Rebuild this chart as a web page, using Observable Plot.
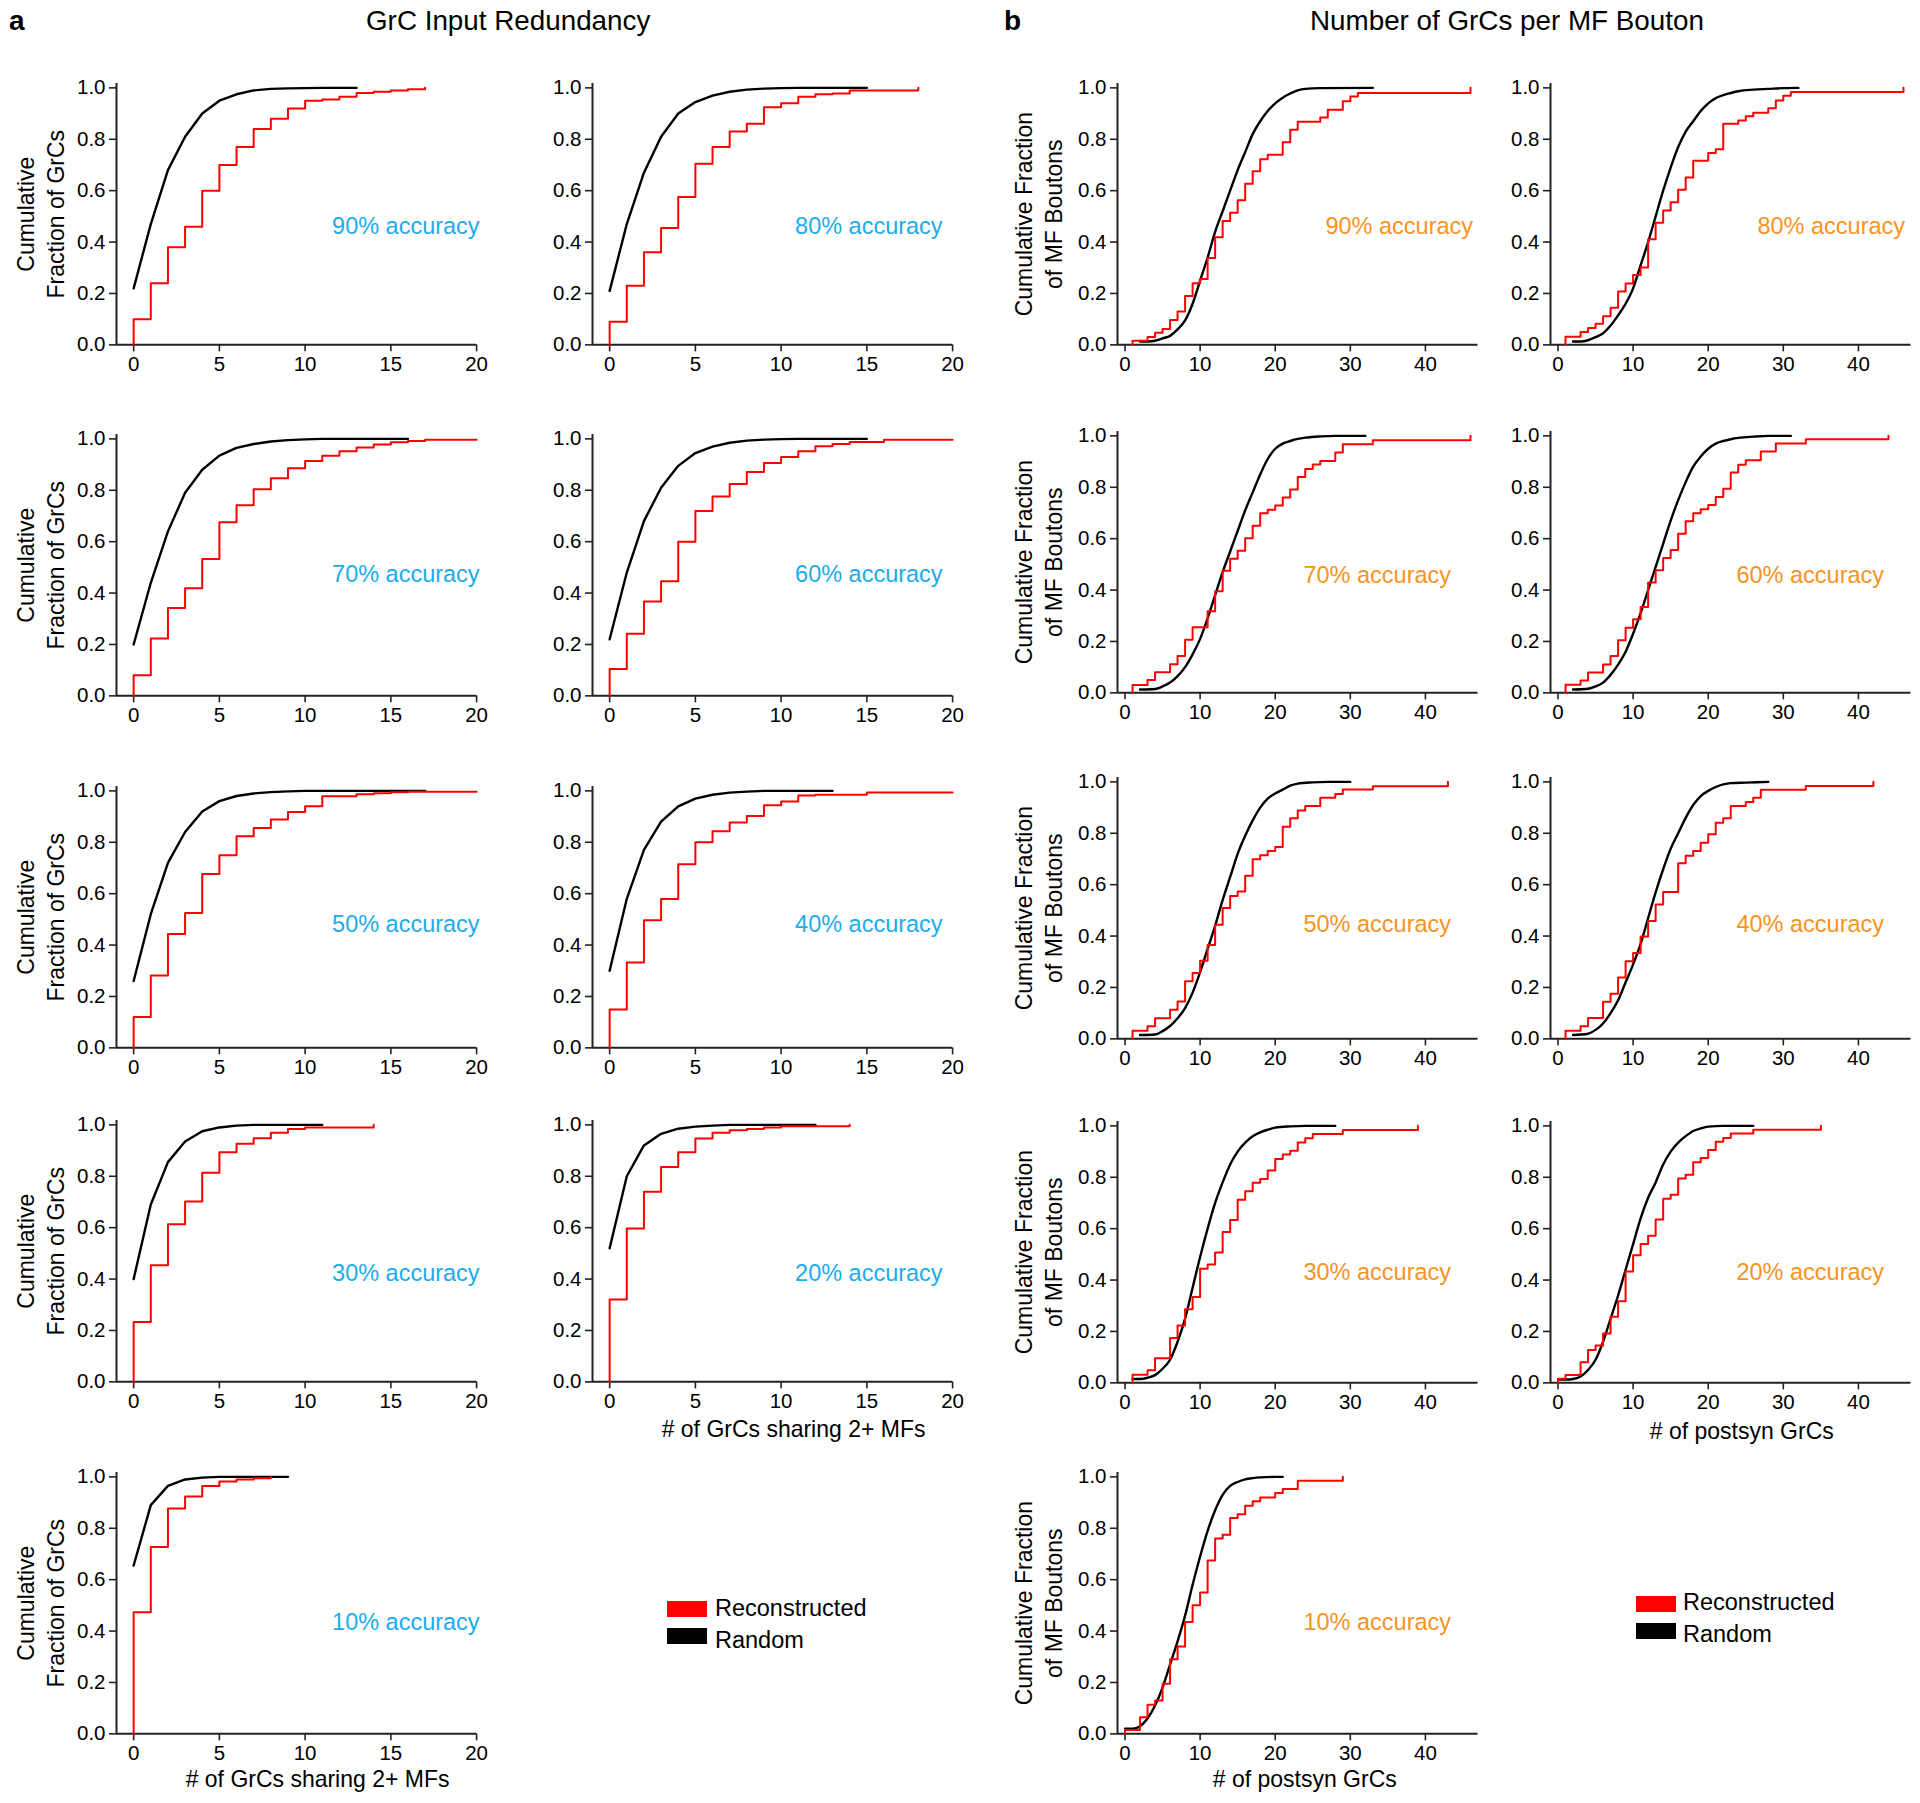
<!DOCTYPE html>
<html><head><meta charset="utf-8">
<script src="https://cdn.jsdelivr.net/npm/d3@7"></script>
<script src="https://cdn.jsdelivr.net/npm/@observablehq/plot@0.6"></script>
<style>
body{margin:0;background:#fff;}
#root{position:relative;width:1920px;height:1803px;overflow:hidden;font-family:"Liberation Sans",Arial,sans-serif;color:#000;background:#fff;}
.abs{position:absolute;white-space:nowrap;line-height:1;}
.sw{position:absolute;width:40px;height:16px;}
</style></head><body><div id="root"></div>
<script>
// ---------------- DATA ----------------
const accuracyLevels = [90, 80, 70, 60, 50, 40, 30, 20, 10];
const titleA = "GrC Input Redundancy";
const titleB = "Number of GrCs per MF Bouton";
const yLabelA = "Cumulative\nFraction of GrCs";
const yLabelB = "Cumulative Fraction\nof MF Boutons";
const xLabelA = "# of GrCs sharing 2+ MFs";
const xLabelB = "# of postsyn GrCs";
const seriesNames = ["Reconstructed", "Random"];
const xTicksA = [0, 5, 10, 15, 20];
const xTicksB = [0, 10, 20, 30, 40];
const yTicks = [0, 0.2, 0.4, 0.6, 0.8, 1.0];

// Panel a: cumulative fraction at 0,1,2,... GrCs sharing 2+ MFs (index = count)
const grcReconstructed = [
  [0.10,0.24,0.38,0.46,0.60,0.70,0.77,0.84,0.88,0.92,0.95,0.955,0.965,0.98,0.985,0.99,0.995,1.0],
  [0.09,0.23,0.36,0.455,0.575,0.705,0.77,0.83,0.86,0.925,0.94,0.965,0.975,0.978,0.99,0.99,0.99,0.99,1.0],
  [0.08,0.223,0.342,0.419,0.533,0.676,0.742,0.804,0.847,0.886,0.914,0.934,0.952,0.966,0.978,0.987,0.992,0.997,0.997,0.997,0.997],
  [0.105,0.242,0.367,0.446,0.60,0.719,0.776,0.824,0.871,0.906,0.929,0.952,0.971,0.98,0.988,0.988,0.997,0.997,0.997,0.997,0.997],
  [0.12,0.282,0.443,0.525,0.677,0.749,0.823,0.856,0.889,0.918,0.94,0.979,0.979,0.987,0.991,0.995,0.997,0.997,0.997,0.997,0.997],
  [0.149,0.332,0.497,0.579,0.714,0.80,0.843,0.877,0.902,0.944,0.959,0.982,0.985,0.985,0.985,0.994,0.994,0.994,0.994,0.994,0.994],
  [0.233,0.454,0.613,0.702,0.814,0.893,0.927,0.948,0.969,0.984,0.99,0.99,0.99,0.99,1.0],
  [0.32,0.597,0.74,0.836,0.893,0.947,0.969,0.979,0.984,0.99,0.995,0.995,0.995,0.995,1.0],
  [0.473,0.727,0.877,0.924,0.964,0.982,0.99,0.995,1.0]
];
const grcRandom = [
  [0.22,0.47,0.68,0.81,0.90,0.95,0.975,0.99,0.996,0.998,0.999,1,1,1],
  [0.21,0.47,0.67,0.81,0.90,0.945,0.97,0.985,0.993,0.997,0.999,1,1,1,1,1],
  [0.20,0.44,0.64,0.79,0.88,0.935,0.965,0.98,0.99,0.995,0.998,1,1,1,1,1,1],
  [0.22,0.48,0.68,0.81,0.895,0.945,0.97,0.985,0.993,0.997,0.999,1,1,1,1,1],
  [0.26,0.52,0.72,0.84,0.92,0.96,0.98,0.99,0.995,0.998,1,1,1,1,1,1,1,1],
  [0.30,0.58,0.77,0.88,0.94,0.97,0.985,0.993,0.997,1,1,1,1,1],
  [0.40,0.69,0.855,0.935,0.975,0.99,0.997,1,1,1,1,1],
  [0.52,0.80,0.92,0.965,0.985,0.993,0.997,1,1,1,1,1,1],
  [0.655,0.89,0.965,0.99,0.997,1,1,1,1,1]
];

// Panel b: number of postsynaptic GrCs per MF bouton (step positions and cumulative fractions)
const boutonReconstructedX = [
  [1,3,4,5,6,7,8,9,10,11,12,13,14,15,16,17,18,19,21,22,23,26,27,29,30,31,46],
  [1,3,4,5,6,7,8,9,10,11,12,13,14,15,16,17,18,20,21,22,24,25,26,28,29,30,31,46],
  [1,3,4,6,7,8,9,11,12,13,14,15,16,17,18,19,20,21,22,23,24,25,26,28,29,33,46],
  [1,3,4,6,7,8,9,10,11,12,13,14,15,16,17,18,19,20,21,22,23,24,25,27,29,33,44],
  [1,3,4,6,7,8,9,10,11,12,13,14,15,16,17,18,19,20,21,22,23,24,26,28,29,33,43],
  [1,3,4,6,7,8,9,10,11,12,13,14,16,17,18,19,20,21,22,23,25,26,27,33,42],
  [1,3,4,6,7,8,9,10,11,12,13,14,15,16,17,18,19,20,21,22,23,24,25,29,39],
  [0,1,3,4,5,6,7,8,9,10,11,12,13,14,15,16,17,18,19,20,21,22,23,26,35],
  [0,2,3,4,5,6,7,8,9,10,11,12,13,14,15,16,17,18,20,21,23,29]
];
const boutonReconstructedY = [
  [0.016,0.031,0.047,0.062,0.097,0.13,0.19,0.24,0.256,0.338,0.419,0.482,0.514,0.563,0.627,0.676,0.722,0.74,0.788,0.837,0.868,0.885,0.915,0.948,0.966,0.98,1.0],
  [0.032,0.05,0.066,0.082,0.111,0.144,0.208,0.239,0.272,0.301,0.411,0.475,0.523,0.555,0.604,0.651,0.716,0.747,0.761,0.86,0.873,0.89,0.903,0.921,0.951,0.969,0.984,1.0],
  [0.031,0.05,0.08,0.111,0.143,0.207,0.255,0.318,0.395,0.475,0.522,0.553,0.602,0.65,0.699,0.713,0.729,0.76,0.791,0.84,0.871,0.889,0.902,0.935,0.967,0.983,1.0],
  [0.032,0.048,0.079,0.11,0.143,0.205,0.253,0.286,0.334,0.429,0.477,0.525,0.556,0.619,0.668,0.699,0.714,0.731,0.762,0.794,0.857,0.888,0.905,0.939,0.97,0.987,1.0],
  [0.032,0.049,0.08,0.113,0.145,0.224,0.256,0.304,0.365,0.444,0.509,0.556,0.573,0.635,0.699,0.714,0.731,0.747,0.825,0.858,0.889,0.906,0.938,0.953,0.97,0.983,1.0],
  [0.032,0.049,0.081,0.144,0.176,0.239,0.302,0.334,0.398,0.459,0.523,0.571,0.683,0.713,0.731,0.763,0.796,0.841,0.858,0.906,0.922,0.938,0.969,0.984,1.0],
  [0.032,0.049,0.096,0.175,0.223,0.286,0.334,0.444,0.461,0.507,0.587,0.634,0.713,0.746,0.779,0.793,0.826,0.871,0.889,0.903,0.935,0.952,0.968,0.984,1.0],
  [0.016,0.031,0.08,0.128,0.145,0.192,0.257,0.318,0.433,0.497,0.54,0.572,0.636,0.716,0.732,0.795,0.81,0.858,0.875,0.906,0.938,0.953,0.97,0.985,1.0],
  [0.015,0.065,0.113,0.13,0.195,0.29,0.34,0.435,0.50,0.55,0.675,0.76,0.775,0.84,0.855,0.888,0.905,0.92,0.937,0.953,0.985,1.0]
];
const boutonRandomX = [
  [2,3,4,5,6,7,8,9,10,11,12,13,14,15,16,17,18,19,20,21,22,23,24,26,33],
  [2,3,4,5,6,7,8,9,10,11,12,13,14,15,16,17,18,19,20,21,22,23,24,26,28,30,32],
  [2,4,5,6,7,8,9,10,11,12,13,14,15,16,17,18,19,20,21,22,23,24,26,28,32],
  [2,4,5,6,7,8,9,10,11,12,13,14,15,16,17,18,19,20,21,22,23,24,26,28,31],
  [2,4,5,6,7,8,9,10,11,12,13,14,15,16,17,18,19,20,21,22,23,25,27,30],
  [2,4,5,6,7,8,9,10,11,12,13,14,15,16,17,18,19,20,21,22,23,25,28],
  [1,2,3,4,5,6,7,8,9,10,11,12,13,14,15,16,17,18,19,20,22,24,28],
  [0,1,2,3,4,5,6,7,8,9,10,11,12,13,14,15,16,17,18,19,20,22,26],
  [0,1,2,3,4,5,6,7,8,9,10,11,12,13,14,15,16,17,18,20,21]
];
const boutonRandomY = [
  [0.013,0.013,0.016,0.025,0.035,0.06,0.095,0.16,0.25,0.34,0.44,0.52,0.60,0.68,0.75,0.82,0.87,0.91,0.94,0.962,0.978,0.99,0.996,0.999,1.0],
  [0.013,0.013,0.018,0.03,0.045,0.075,0.115,0.16,0.22,0.31,0.40,0.50,0.60,0.69,0.77,0.83,0.87,0.91,0.94,0.96,0.972,0.98,0.987,0.993,0.996,0.999,1.0],
  [0.013,0.015,0.025,0.04,0.065,0.10,0.15,0.21,0.29,0.38,0.47,0.55,0.63,0.71,0.78,0.85,0.91,0.95,0.97,0.98,0.988,0.993,0.998,1.0,1.0],
  [0.013,0.016,0.025,0.04,0.07,0.11,0.16,0.23,0.31,0.40,0.49,0.58,0.67,0.75,0.82,0.88,0.92,0.95,0.97,0.98,0.987,0.992,0.997,1.0,1.0],
  [0.015,0.017,0.03,0.05,0.08,0.12,0.18,0.26,0.35,0.44,0.54,0.63,0.72,0.79,0.85,0.90,0.935,0.955,0.97,0.985,0.993,0.998,1.0,1.0],
  [0.015,0.02,0.035,0.06,0.10,0.15,0.22,0.29,0.37,0.47,0.57,0.66,0.74,0.80,0.86,0.91,0.945,0.965,0.98,0.99,0.995,0.997,1.0],
  [0.015,0.015,0.02,0.03,0.055,0.09,0.16,0.25,0.37,0.49,0.60,0.70,0.78,0.85,0.90,0.935,0.96,0.975,0.985,0.993,0.998,1.0,1.0],
  [0.013,0.013,0.015,0.025,0.05,0.09,0.16,0.25,0.34,0.44,0.54,0.64,0.72,0.78,0.85,0.90,0.935,0.96,0.98,0.99,0.997,1.0,1.0],
  [0.02,0.02,0.03,0.06,0.11,0.18,0.27,0.36,0.46,0.58,0.69,0.79,0.87,0.93,0.965,0.98,0.99,0.995,0.998,1.0,1.0]
];

// ---------------- LAYOUT (page pixels) ----------------
const COLORS = {red: "#ff0000", black: "#000000", cyan: "#1cacec", orange: "#f7931e", axis: "#222"};
const FONT = '"Liberation Sans", Arial, Helvetica, sans-serif';
const xDomA = [-1, 20], xDomB = [-1, 47], yMax = 1.017;
const unitH = 257;               // pixels for y 0..1
const ML = 110, MR = 12, MT = 10, MB = 80;
const colA = [[115.9, 476], [591.9, 952]];
const colB = [[1117, 1477.5], [1550, 1910.5]];
const rowY0A = [344, 695, 1047, 1381, 1733];
const rowY0B = [344, 692, 1038, 1382, 1733];
const accDyA = [-118, -121, -123, -108, -111];
const accDyB = [-118, -117, -114, -110, -111];
const accDxA = [3, -10];
const accDxB = [[-5, -6], [-27, -27], [-27, -27], [-27, -27], [-27, -27]];

const root = document.getElementById("root");

function addDiv(text, left, centerY, size, opts = {}) {
  const d = document.createElement("div");
  d.className = "abs";
  d.textContent = text;
  d.style.left = left + "px";
  d.style.top = (centerY - size / 2) + "px";
  d.style.fontSize = size + "px";
  if (opts.bold) d.style.fontWeight = "bold";
  root.appendChild(d);
  return d;
}

function panel(cfg) {
  const frameH = unitH * yMax;
  const width = cfg.frame[1] - cfg.frame[0] + ML + MR;
  const height = frameH + MT + MB;
  const marks = [
    Plot.ruleY([0], {x1: cfg.xDomain[0], x2: cfg.xDomain[1], stroke: COLORS.axis, strokeWidth: 2}),
    Plot.ruleX([cfg.xDomain[0]], {y1: 0, y2: yMax, stroke: COLORS.axis, strokeWidth: 2}),
    Plot.axisX(cfg.xTicks, {tickSize: 7, tickPadding: 5, fontSize: 20.5, strokeWidth: 1.6, stroke: COLORS.axis, fill: "#000", label: null}),
    Plot.axisY(yTicks, {tickSize: 7, tickPadding: 4, fontSize: 20.5, strokeWidth: 1.6, stroke: COLORS.axis, fill: "#000", tickFormat: d3.format(".1f"), label: null}),
    Plot.line(cfg.black, {x: "x", y: "y", stroke: COLORS.black, strokeWidth: 2.4, curve: cfg.blackCurve}),
    Plot.line(cfg.red, {x: "x", y: "y", stroke: COLORS.red, strokeWidth: 2, curve: "step-after"}),
    Plot.text([cfg.accText], {text: d => d, frameAnchor: "bottom-right", textAnchor: "end", lineAnchor: "middle", dx: cfg.accDx, dy: cfg.accDy, fontSize: 23.5, fill: cfg.accColor})
  ];
  if (cfg.yLabel) {
    marks.push(Plot.text([cfg.yLabel], {text: d => d, frameAnchor: "left", textAnchor: "middle", lineAnchor: "middle", rotate: -90, dx: cfg.yLabelDx, fontSize: 23, lineHeight: 1.28, fill: "#000"}));
  }
  if (cfg.xLabel) {
    marks.push(Plot.text([cfg.xLabel], {text: d => d, frameAnchor: "bottom", textAnchor: "middle", lineAnchor: "middle", dx: cfg.xLabelDx, dy: cfg.xLabelDy, fontSize: 23, fill: "#000"}));
  }
  const svg = Plot.plot({
    width, height,
    marginLeft: ML, marginRight: MR, marginTop: MT, marginBottom: MB,
    x: {domain: cfg.xDomain},
    y: {domain: [0, yMax]},
    style: {fontFamily: FONT, background: "transparent", overflow: "visible", color: "#000", maxWidth: "none"},
    marks
  });
  svg.style.position = "absolute";
  svg.style.left = (cfg.frame[0] - ML) + "px";
  svg.style.top = (cfg.y0 - frameH - MT) + "px";
  root.appendChild(svg);
}

// Panel a
accuracyLevels.forEach((acc, i) => {
  const row = Math.floor(i / 2), col = i % 2;
  const red = [{x: 0, y: 0}, ...grcReconstructed[i].map((y, x) => ({x, y}))];
  const black = grcRandom[i].map((y, x) => ({x, y}));
  const hasXLabel = (i === 7 || i === 8);
  panel({
    xDomain: xDomA, xTicks: xTicksA, frame: colA[col], y0: rowY0A[row],
    red, black, blackCurve: "linear",
    yLabel: col === 0 ? yLabelA : null, yLabelDx: -77,
    accText: `${acc}% accuracy`, accColor: COLORS.cyan, accDx: accDxA[col], accDy: accDyA[row],
    xLabel: hasXLabel ? xLabelA : null, xLabelDx: 21, xLabelDy: row === 4 ? 46 : 48
  });
});

// Panel b
accuracyLevels.forEach((acc, i) => {
  const row = Math.floor(i / 2), col = i % 2;
  const xs = boutonReconstructedX[i], ys = boutonReconstructedY[i];
  const red = [{x: xs[0], y: 0}, ...xs.map((x, k) => ({x, y: ys[k]}))];
  const black = boutonRandomX[i].map((x, k) => ({x, y: boutonRandomY[i][k]}));
  const hasXLabel = (i === 7 || i === 8);
  panel({
    xDomain: xDomB, xTicks: xTicksB, frame: colB[col], y0: rowY0B[row],
    red, black, blackCurve: "monotone-x",
    yLabel: col === 0 ? yLabelB : null, yLabelDx: -80,
    accText: `${acc}% accuracy`, accColor: COLORS.orange, accDx: accDxB[row][col], accDy: accDyB[row],
    xLabel: hasXLabel ? xLabelB : null, xLabelDx: row === 4 ? 7 : 11, xLabelDy: row === 4 ? 46 : 49
  });
});

// Titles
addDiv("a", 9, 21, 28, {bold: true});
addDiv(titleA, 366, 21, 27.8);
addDiv("b", 1004, 21, 28, {bold: true});
addDiv(titleB, 1310, 21, 27.8);

// Legends
function legend(swLeft, redTop, blackTop, textLeft, c1, c2) {
  const colors = [COLORS.red, COLORS.black];
  [redTop, blackTop].forEach((t, k) => {
    const s = document.createElement("div");
    s.className = "sw";
    s.style.left = swLeft + "px";
    s.style.top = t + "px";
    s.style.background = colors[k];
    root.appendChild(s);
  });
  addDiv(seriesNames[0], textLeft, c1, 23.5);
  addDiv(seriesNames[1], textLeft, c2, 23.5);
}
legend(667, 1601, 1628, 715, 1609, 1641);
legend(1636, 1596, 1623, 1683, 1603, 1635);
</script></body></html>
